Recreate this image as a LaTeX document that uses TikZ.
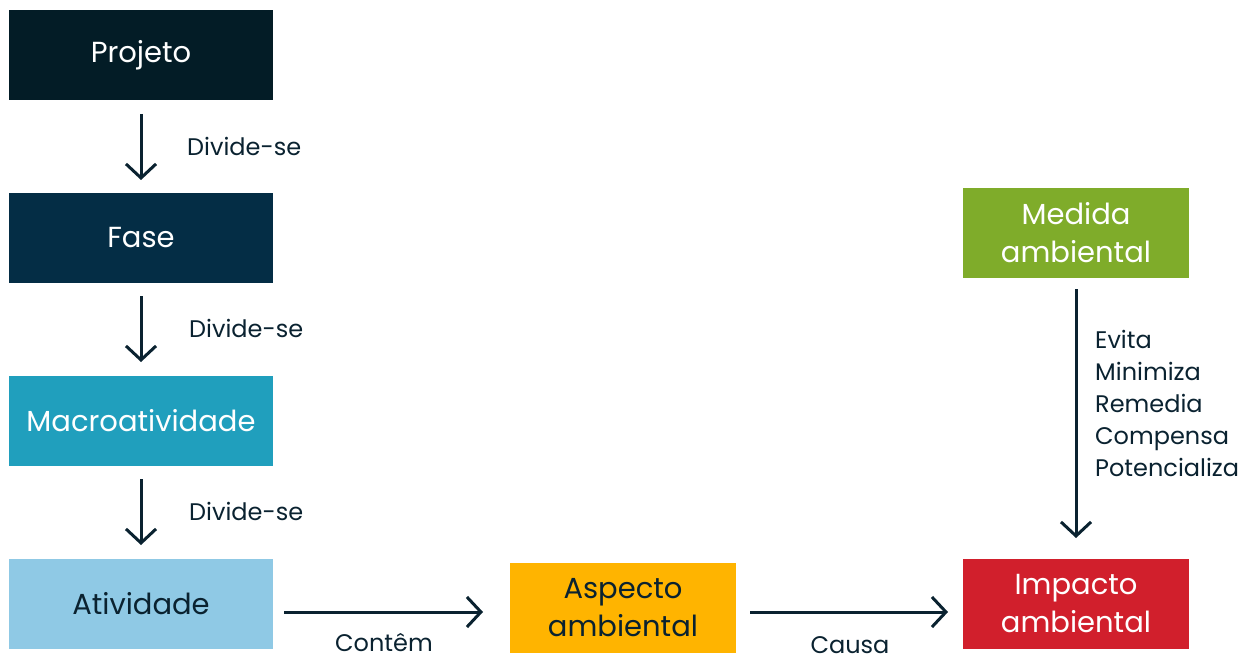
\documentclass[tikz,border=0pt]{standalone}
\usepackage{fontspec}
\setmainfont{Poppins}
\usetikzlibrary{arrows.meta}
\definecolor{cproj}{HTML}{031C26}
\definecolor{cfase}{HTML}{042D45}
\definecolor{cmacro}{HTML}{209FBD}
\definecolor{cativ}{HTML}{8FC9E5}
\definecolor{caspe}{HTML}{FFB400}
\definecolor{cmed}{HTML}{7FAC2A}
\definecolor{cimp}{HTML}{D11F2C}
\definecolor{cdark}{HTML}{0A2230}
\tikzset{
  box/.style={minimum width=264pt, minimum height=90pt, inner sep=0pt, align=center, font=\fontsize{29}{38}\selectfont},
  boxs/.style={minimum width=226pt, minimum height=90pt, inner sep=0pt, align=center, font=\fontsize{29}{38}\selectfont},
  lbl/.style={text=cdark, font=\fontsize{24}{32}\selectfont, inner sep=0pt},
  conn/.style={draw=cdark, line width=3pt, -{Straight Barb[length=14pt, width=30pt, line width=3pt]}}
}
\begin{document}
\begin{tikzpicture}[x=1pt,y=-1pt]
\useasboundingbox (0,0) rectangle (1246,660);
\node[box, fill=cproj, text=white] (proj) at (141,55) {Projeto};
\node[box, fill=cfase, text=white] (fase) at (141,238) {Fase};
\node[box, fill=cmacro, text=white] (macro) at (141,421) {Macroatividade};
\node[box, fill=cativ, text=cdark] (ativ) at (141,604) {Atividade};
\node[boxs, fill=caspe, text=cdark] (aspe) at (623,608) {Aspecto\\ambiental};
\node[boxs, fill=cmed, text=white] (med) at (1076,233) {Medida\\ambiental};
\node[boxs, fill=cimp, text=white] (imp) at (1076,604) {Impacto\\ambiental};
\coordinate (a1s) at (141,114); \coordinate (a1e) at (141,180);
\coordinate (a2s) at (141,296); \coordinate (a2e) at (141,362);
\coordinate (a3s) at (141,479); \coordinate (a3e) at (141,545);
\coordinate (a4s) at (284,612); \coordinate (a4e) at (483,612);
\coordinate (a5s) at (750,612); \coordinate (a5e) at (948,612);
\coordinate (a6s) at (1076,289); \coordinate (a6e) at (1076,538);
\draw[conn] (a1s) -- (a1e);
\draw[conn] (a2s) -- (a2e);
\draw[conn] (a3s) -- (a3e);
\draw[conn] (a4s) -- (a4e);
\draw[conn] (a5s) -- (a5e);
\draw[conn] (a6s) -- (a6e);
\node[lbl, anchor=west] (l1) at (187,146) {Divide-se};
\node[lbl, anchor=west] (l2) at (189,328) {Divide-se};
\node[lbl, anchor=west] (l3) at (189,511) {Divide-se};
\node[lbl] (l4) at (384,643) {Contêm};
\node[lbl] (l5) at (850,645) {Causa};
\node[lbl, anchor=west, align=left] (l6) at (1095,403) {Evita\\Minimiza\\Remedia\\Compensa\\Potencializa};
\end{tikzpicture}
\end{document}
